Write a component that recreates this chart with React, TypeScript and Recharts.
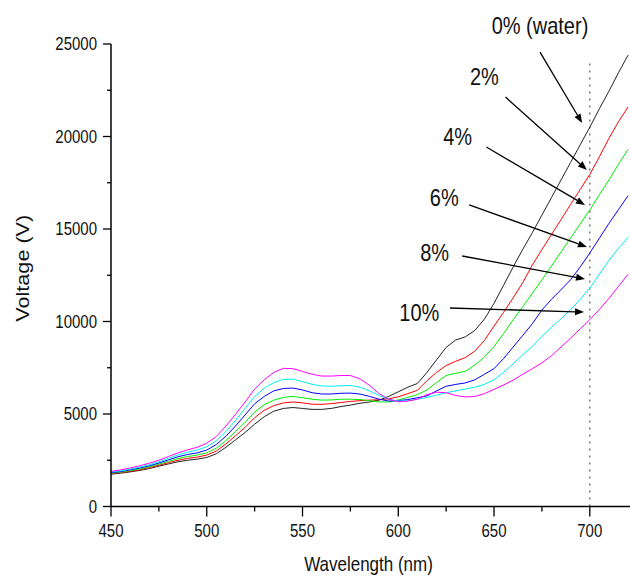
import React from "react";
import { LineChart, Line, XAxis, YAxis, ReferenceLine, ReferenceDot } from "recharts";

const wavelengths = [450,455,460,465,470,475,480,485,490,495,500,505,510,515,520,525,530,535,540,545,550,555,560,565,570,575,580,585,590,595,600,605,610,615,620,625,630,635,640,645,650,655,660,665,670,675,680,685,690,695,700,705,710,715,720];

const water0 = [1750,1800,1870,1950,2050,2180,2300,2420,2500,2560,2650,2850,3200,3600,4000,4450,4850,5150,5300,5350,5300,5250,5250,5300,5400,5480,5580,5650,5750,5950,6200,6450,6650,7250,7930,8600,9000,9170,9520,10130,10980,11960,12950,13900,14800,15750,16700,17650,18600,19550,20500,21500,22450,23450,24400];
const pct2 = [1780,1830,1900,1990,2100,2230,2370,2500,2600,2670,2780,3000,3380,3820,4280,4800,5200,5450,5600,5650,5600,5530,5520,5560,5620,5680,5720,5750,5770,5820,5930,6100,6280,6800,7250,7620,7850,8050,8400,8980,9750,10500,11280,12100,13050,13890,14700,15510,16330,17140,17950,18900,19900,20800,21600];
const pct4 = [1800,1860,1940,2030,2150,2290,2440,2590,2700,2780,2900,3150,3560,4050,4550,5100,5500,5750,5900,5950,5880,5800,5750,5760,5800,5800,5780,5720,5650,5650,5760,5900,6050,6300,6700,7080,7200,7310,7650,8080,8650,9350,10100,10800,11520,12250,13000,13760,14520,15280,16030,16850,17650,18500,19300];
const pct6 = [1830,1890,1980,2080,2200,2350,2520,2690,2810,2900,3050,3350,3800,4350,4950,5550,5950,6250,6380,6400,6300,6150,6080,6080,6120,6130,6080,5950,5800,5700,5720,5780,5880,5980,6250,6500,6600,6680,6850,7150,7450,8000,8620,9250,9880,10620,11200,11720,12260,12950,13700,14500,15300,16050,16800];
const pct8 = [1860,1930,2020,2130,2260,2420,2600,2790,2930,3050,3230,3550,4050,4650,5300,5950,6400,6700,6870,6880,6750,6600,6520,6500,6530,6540,6450,6250,6000,5800,5700,5720,5800,5900,6020,6150,6250,6350,6450,6600,6850,7250,7720,8200,8650,9200,9680,10150,10640,11200,11800,12550,13300,13950,14550];
const pct10 = [1900,1980,2080,2200,2340,2500,2700,2900,3060,3200,3420,3780,4350,4980,5650,6350,6850,7250,7470,7450,7300,7150,7050,7050,7080,7080,6900,6550,6100,5800,5660,5700,5800,6050,6180,6150,6000,5920,5950,6100,6330,6570,6830,7150,7450,7760,8150,8620,9100,9600,10100,10650,11250,11900,12550];

const seriesKeys = ["p0", "p2", "p4", "p6", "p8", "p10"];
const seriesColors = ["#222222", "#ff0000", "#00ee00", "#0000ff", "#00eeee", "#ff00ff"];

const xTicks = [450,475,500,525,550,575,600,625,650,675,700];
const yTicks = [0,2500,5000,7500,10000,12500,15000,17500,20000,22500,25000];
const xMajor = [450,500,550,600,650,700];
const yMajor = [0,5000,10000,15000,20000,25000];

// annotations (data units)
const annoLabels = ["0% (water)", "2%", "4%", "6%", "8%", "10%"];
const annoTextX = [674, 645, 631, 624, 619, 611];
const annoTextY = [26000, 23250, 20000, 16700, 13750, 10500];
const arrowX1 = [674, 656, 646, 637, 633.4, 627];
const arrowY1 = [24560, 22130, 19430, 16300, 13540, 10730];
const arrowX2 = [696, 698.5, 697.5, 698.5, 697.5, 697];
const arrowY2 = [20730, 18190, 16300, 14030, 12300, 10510];

const data = wavelengths.map((w, i) => ({
  w,
  p0: water0[i],
  p2: pct2[i],
  p4: pct4[i],
  p6: pct6[i],
  p8: pct8[i],
  p10: pct10[i],
}));

const FONT = "'Liberation Sans', Arial, sans-serif";

const YTick = (props: any) => {
  const { x, y, payload } = props;
  const major = yMajor.includes(payload.value);
  return (
    <g>
      <line x1={x - (major ? 8 : 4)} x2={x} y1={y} y2={y} stroke="#000" strokeWidth={1.3} />
      {major && (
        <text
          transform={`translate(${x - 14},${y}) scale(1,1.2)`}
          textAnchor="end"
          dy="0.36em"
          fontSize={15}
          fontFamily={FONT}
          fill="#111"
        >
          {payload.value}
        </text>
      )}
    </g>
  );
};

const XTick = (props: any) => {
  const { x, y, payload } = props;
  const major = xMajor.includes(payload.value);
  return (
    <g>
      <line x1={x} x2={x} y1={y} y2={y + (major ? 10 : 5)} stroke="#000" strokeWidth={1.3} />
      {major && (
        <text
          transform={`translate(${x},${y + 30}) scale(1,1.2)`}
          textAnchor="middle"
          fontSize={15}
          fontFamily={FONT}
          fill="#111"
        >
          {payload.value}
        </text>
      )}
    </g>
  );
};

const Arrow = (props: any) => {
  const { x1, y1, x2, y2 } = props;
  const ang = Math.atan2(y2 - y1, x2 - x1);
  const len = 9;
  const hw = 3.5;
  const bx = x2 - len * Math.cos(ang);
  const by = y2 - len * Math.sin(ang);
  const px = -Math.sin(ang) * hw;
  const py = Math.cos(ang) * hw;
  return (
    <g>
      <line x1={x1} y1={y1} x2={bx} y2={by} stroke="#000" strokeWidth={1.3} />
      <polygon points={`${x2},${y2} ${bx + px},${by + py} ${bx - px},${by - py}`} fill="#000" />
    </g>
  );
};

const makeLabel = (txt: string) => (props: any) => {
  const { cx, cy } = props;
  return (
    <text
      transform={`translate(${cx},${cy}) scale(1,1.17)`}
      textAnchor="middle"
      dy="0.36em"
      fontSize={20}
      fontFamily={FONT}
      fill="#111"
    >
      {txt}
    </text>
  );
};

export default function App() {
  return (
    <div style={{ position: "absolute", left: 0, top: 0, width: 630, height: 578, background: "#fff" }}>
      <LineChart
        width={630}
        height={578}
        data={data}
        margin={{ top: 44, right: 0, bottom: 21.5, left: 0 }}
      >
        <XAxis
          dataKey="w"
          type="number"
          domain={[450, 721]}
          ticks={xTicks}
          allowDataOverflow
          height={50}
          tickSize={0}
          tickMargin={0}
          tickLine={false}
          tick={<XTick />}
          axisLine={{ stroke: "#000", strokeWidth: 1.5 }}
          label={{
            content: (p: any) => {
              const vb = p.viewBox;
              return (
                <text
                  transform={`translate(${vb.x + vb.width / 2 - 2},${vb.y + 64.5}) scale(1,1.2)`}
                  textAnchor="middle"
                  fontSize={17}
                  fontFamily={FONT}
                  fill="#111"
                >
                  Wavelength (nm)
                </text>
              );
            },
          }}
        />
        <YAxis
          type="number"
          domain={[0, 25000]}
          ticks={yTicks}
          allowDataOverflow
          width={111}
          tickSize={0}
          tickMargin={0}
          tickLine={false}
          tick={<YTick />}
          axisLine={{ stroke: "#000", strokeWidth: 1.5 }}
          label={{
            content: (p: any) => {
              const vb = p.viewBox;
              const cy = vb.y + vb.height / 2 - 7;
              return (
                <text
                  transform={`translate(29,${cy}) rotate(-90) scale(1.2,1)`}
                  textAnchor="middle"
                  fontSize={18}
                  fontFamily={FONT}
                  fill="#111"
                >
                  Voltage (V)
                </text>
              );
            },
          }}
        />
        <ReferenceLine
          segment={[{ x: 700, y: 0 }, { x: 700, y: 24000 }]}
          stroke="#777"
          strokeWidth={1.5}
          strokeDasharray="2 5"
          ifOverflow="visible"
        />
        {seriesKeys.map((k, i) => (
          <Line
            key={k}
            dataKey={k}
            type="linear"
            stroke={seriesColors[i]}
            strokeWidth={1}
            dot={false}
            isAnimationActive={false}
          />
        ))}
        {annoLabels.map((lab, i) => (
          <ReferenceLine
            key={"a" + i}
            segment={[{ x: arrowX1[i], y: arrowY1[i] }, { x: arrowX2[i], y: arrowY2[i] }]}
            ifOverflow="visible"
            shape={(p: any) => <Arrow {...p} />}
          />
        ))}
        {annoLabels.map((lab, i) => (
          <ReferenceDot
            key={"t" + i}
            x={annoTextX[i]}
            y={annoTextY[i]}
            r={0}
            ifOverflow="visible"
            shape={makeLabel(lab)}
          />
        ))}
      </LineChart>
    </div>
  );
}
